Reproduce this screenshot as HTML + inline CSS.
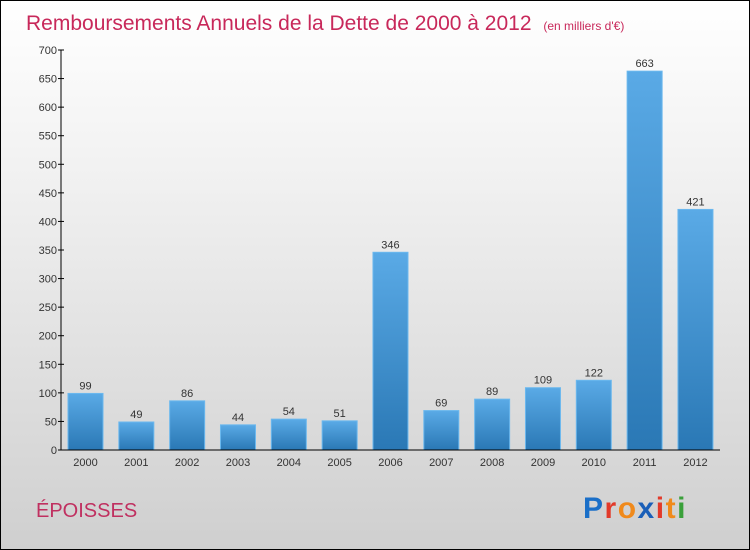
<!DOCTYPE html>
<html><head><meta charset="utf-8"><style>
body{margin:0;}
#wrap{position:relative;width:748px;height:548px;border:1px solid #000;background:linear-gradient(#ffffff,#f2f2f2 30%,#cfcfcf);font-family:"Liberation Sans",sans-serif;overflow:hidden}
</style></head><body>
<div id="wrap">
<svg id="chart" width="748" height="548">
<defs><linearGradient id="bg" x1="0" y1="0" x2="0" y2="1"><stop offset="0" stop-color="#5aaae6"/><stop offset="1" stop-color="#2a78b5"/></linearGradient></defs>
<text x="25" y="29" font-size="21" fill="#c8285a">Remboursements Annuels de la Dette de 2000 à 2012 <tspan font-size="12" dx="6">(en milliers d'€)</tspan></text>
<text x="35" y="516" font-size="20" fill="#c03060">ÉPOISSES</text>
<text x="582" y="517" font-size="30" font-weight="bold" letter-spacing="1.5"><tspan fill="#1a6fc8">P</tspan><tspan fill="#e23a2a">r</tspan><tspan fill="#f08a1c">o</tspan><tspan fill="#1a5fb8">x</tspan><tspan fill="#e23a2a">i</tspan><tspan fill="#f08a1c">t</tspan><tspan fill="#3aa03a">i</tspan></text>
<g id="plot"></g>
</svg>
</div>
<script>
const categories=["2000","2001","2002","2003","2004","2005","2006","2007","2008","2009","2010","2011","2012"];
const values=[99,49,86,44,54,51,346,69,89,109,122,663,421];
const yTicks=[0,50,100,150,200,250,300,350,400,450,500,550,600,650,700];
const ns="http://www.w3.org/2000/svg";
const g=document.getElementById('plot');
const y=v=>449-v*400/700;
const x=i=>84.5+i*50.83;
function el(t,a){const e=document.createElementNS(ns,t);for(const k in a)e.setAttribute(k,a[k]);g.appendChild(e);return e;}
yTicks.forEach(t=>{
 const l=el('line',{x1:57,x2:63,y1:y(t),y2:y(t),stroke:'#000'});
 
 
 const tx=el('text',{x:56,y:y(t)+4,'font-size':11,fill:'#333','text-anchor':'end'});
 tx.textContent=t;
 
 
});
values.forEach((v,i)=>{
 const r=el('rect',{x:x(i)-17.5,y:y(v),width:35,height:449-y(v),fill:'url(#bg)',stroke:'#6bb8ee','stroke-width':1});
 
 
 const t=el('text',{x:x(i),y:y(v)-4,'font-size':11,fill:'#333','text-anchor':'middle'});
 t.textContent=v;
 
 
 const c=el('text',{x:x(i),y:465,'font-size':11,fill:'#333','text-anchor':'middle'});
 c.textContent=categories[i];
 
 
});
const ya=el('line',{x1:60,x2:60,y1:49,y2:449,stroke:'#000'});


const xa=el('line',{x1:60,x2:719,y1:449,y2:449,stroke:'#000'});


</script>
</body></html>
